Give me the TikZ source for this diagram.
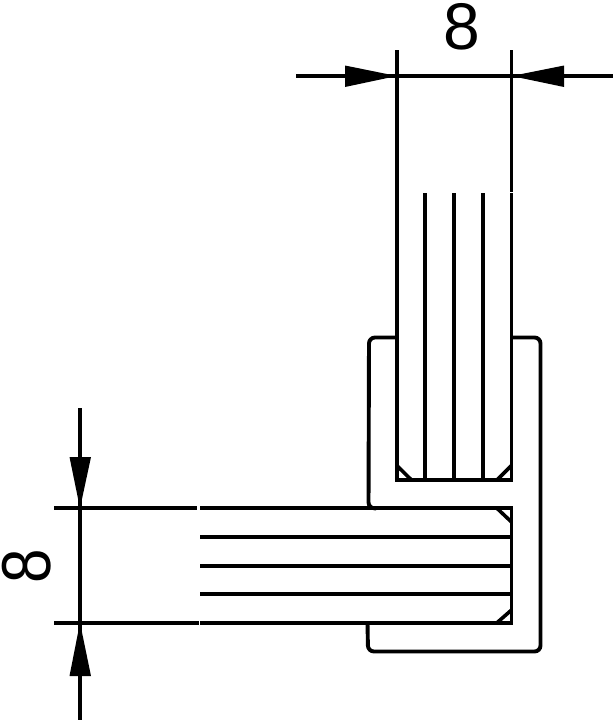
\documentclass[tikz,border=0pt]{standalone}
\usepackage{fontspec}
\setmainfont{Liberation Sans}
\tikzset{
  part/.style={line width=3.9pt,line cap=butt,line join=miter,black},
  dimline/.style={line width=3.7pt,line cap=butt,black},
  chamfer/.style={line width=3.6pt,line cap=butt,black},
  head/.style={fill=black,draw=none},
  dimtext/.style={font=\fontsize{66}{66}\selectfont,inner sep=0pt,black}
}
\begin{document}
\begin{tikzpicture}[x=1pt,y=-1pt]
\useasboundingbox (0,0) rectangle (613,720);
\fill[white] (0,0) rectangle (613,720);
% top dimension
\draw[dimline] (296,76) -- (613,76);
\draw[dimline] (396.7,50) -- (396.7,480);
\draw[dimline] (511.5,50) -- (511.5,191.5);
\draw[dimline] (511.5,193) -- (511.5,480);
\fill[head] (396.7,76) -- (345,65.5) -- (345,87) -- cycle;
\fill[head] (511.5,76) -- (564,65.5) -- (564,87) -- cycle;
\node[dimtext] (topeight) at (461.5,26.5) {8};
% vertical member
\draw[part] (394.8,480) -- (513.4,480);
\draw[dimline] (425,193) -- (425,480);
\draw[dimline] (454,193) -- (454,480);
\draw[dimline] (482.7,193) -- (482.7,480);
\draw[chamfer] (396.7,465.5) -- (411.5,480);
\draw[chamfer] (511.5,465.5) -- (497,480);
% left dimension
\draw[dimline] (80,408) -- (80,720);
\fill[head] (80,508.3) -- (69.5,457) -- (91,457) -- cycle;
\fill[head] (80,622.7) -- (69.5,676) -- (91,676) -- cycle;
\node[dimtext,rotate=90,xscale=0.94,yscale=1.05] (lefteight) at (26.5,566.5) {8};
\draw[dimline] (54,508.3) -- (197,508.3);
\draw[dimline] (54,622.7) -- (198.5,622.7);
% horizontal member
\draw[part] (200,508.3) -- (513.4,508.3);
\draw[part] (200,622.7) -- (513.4,622.7);
\draw[dimline] (200,537.3) -- (511.5,537.3);
\draw[dimline] (200,566) -- (511.5,566);
\draw[dimline] (200,594.3) -- (511.5,594.3);
\draw[part] (511.5,506.4) -- (511.5,624.6);
\draw[chamfer] (497,508.3) -- (511.5,522);
\draw[chamfer] (497,622.7) -- (511.5,610);
% outer profile
\draw[part,rounded corners=6pt] (396.7,337.5) -- (369,337.5) -- (368.5,508.3) -- (376,508.3);
\draw[part,rounded corners=6pt] (511.5,337.5) -- (540.5,337.5) -- (540.5,651.5) -- (368,651.5) -- (367.5,622.7);
\end{tikzpicture}
\end{document}
